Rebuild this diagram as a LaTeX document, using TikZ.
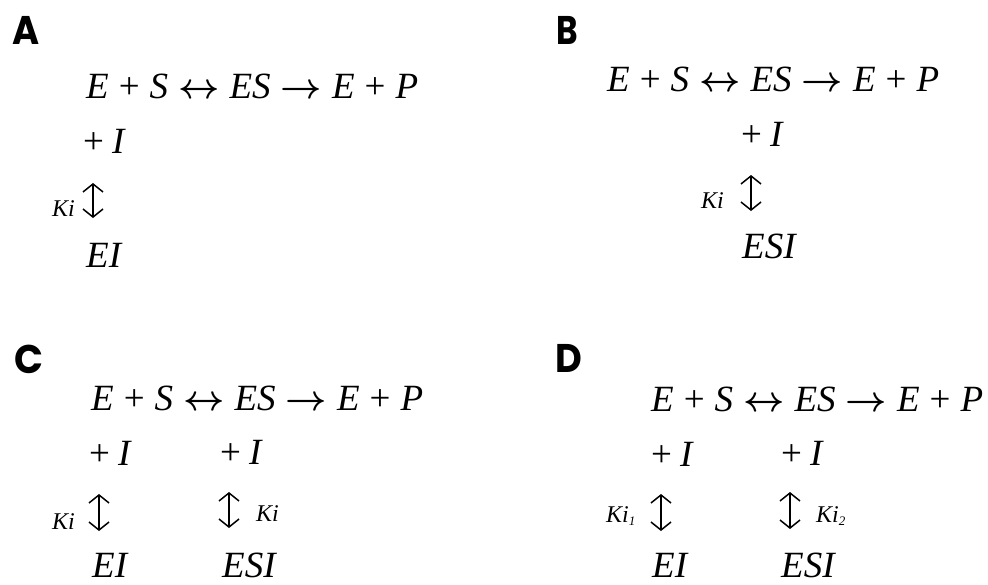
\documentclass[tikz,border=0pt]{standalone}
\usepackage{fontspec}
\setmainfont{Liberation Serif}
\newfontfamily\labelfont{Poppins}
\usetikzlibrary{arrows.meta}
\newcommand\sk{\hspace{10pt}}
\newcommand\bigarr[1]{\scalebox{3.6}{\fontsize{10}{12}\selectfont\boldmath$#1$}}
\newcommand\rxn{\textit{E}\sk+\sk\textit{S}\sk\bigarr{\leftrightarrow}\sk\textit{ES}\sk\bigarr{\rightarrow}\sk\textit{E}\sk+\sk\textit{P}}
\newcommand\plusI{+\hspace{8pt}\textit{I}}
\newcommand\lab[2]{\scalebox{#1}[1]{#2}}
\tikzset{
  panel/.style={inner sep=0pt,anchor=base west,font=\labelfont\bfseries\fontsize{40}{44}\selectfont},
  chem/.style={inner sep=0pt,anchor=base west,font=\fontsize{37}{42}\selectfont},
  kon/.style={inner sep=0pt,anchor=base west,font=\fontsize{24}{26}\selectfont\itshape},
  updown/.style={line width=1.5pt,{Straight Barb[length=8pt,width=20pt]}-{Straight Barb[length=8pt,width=20pt]}}
}
\begin{document}
\begin{tikzpicture}[x=1pt,y=-1pt]
\useasboundingbox (0,0) rectangle (988,584);
% Panel A
\node[panel] (labA) at (12,44) {\lab{0.92}{A}};
\node[chem] (eqA) at (86,98) {\rxn};
\node[chem] (pIA) at (83,153) {\plusI};
\coordinate (aA1) at (93,183);
\coordinate (aA2) at (93,218);
\draw[updown] (aA1) -- (aA2);
\node[kon] (kA) at (52,216) {Ki};
\node[chem] (EIA) at (86,267) {\textit{EI}};
% Panel B
\node[panel] (labB) at (556,44) {\lab{0.82}{B}};
\node[chem] (eqB) at (607,91) {\rxn};
\node[chem] (pIB) at (741,146) {\plusI};
\coordinate (aB1) at (751,175);
\coordinate (aB2) at (751,211);
\draw[updown] (aB1) -- (aB2);
\node[kon] (kB) at (701,208) {Ki};
\node[chem] (ESIB) at (742,258) {\textit{ESI}};
% Panel C
\node[panel] (labC) at (14,373) {\lab{0.95}{C}};
\node[chem] (eqC) at (91,410) {\rxn};
\node[chem] (pIC1) at (89,465) {\plusI};
\node[chem] (pIC2) at (220,464) {\plusI};
\coordinate (aC1) at (99,494);
\coordinate (aC2) at (99,531);
\draw[updown] (aC1) -- (aC2);
\node[kon] (kC1) at (52,529) {Ki};
\coordinate (aC3) at (229,492);
\coordinate (aC4) at (229,528);
\draw[updown] (aC3) -- (aC4);
\node[kon] (kC2) at (256,521) {Ki};
\node[chem] (EIC) at (92,577) {\textit{EI}};
\node[chem] (ESIC) at (222,577) {\textit{ESI}};
% Panel D
\node[panel] (labD) at (555,372) {\lab{0.92}{D}};
\node[chem] (eqD) at (651,411) {\rxn};
\node[chem] (pID1) at (651,466) {\plusI};
\node[chem] (pID2) at (781,465) {\plusI};
\coordinate (aD1) at (661,494);
\coordinate (aD2) at (661,531);
\draw[updown] (aD1) -- (aD2);
\node[kon] (kD1) at (606,522) {Ki\textsubscript{\fontsize{13}{13}\selectfont 1}};
\coordinate (aD3) at (790,492);
\coordinate (aD4) at (790,529);
\draw[updown] (aD3) -- (aD4);
\node[kon] (kD2) at (816,522) {Ki\textsubscript{\fontsize{13}{13}\selectfont 2}};
\node[chem] (EID) at (652,577) {\textit{EI}};
\node[chem] (ESID) at (781,577) {\textit{ESI}};
\end{tikzpicture}
\end{document}
